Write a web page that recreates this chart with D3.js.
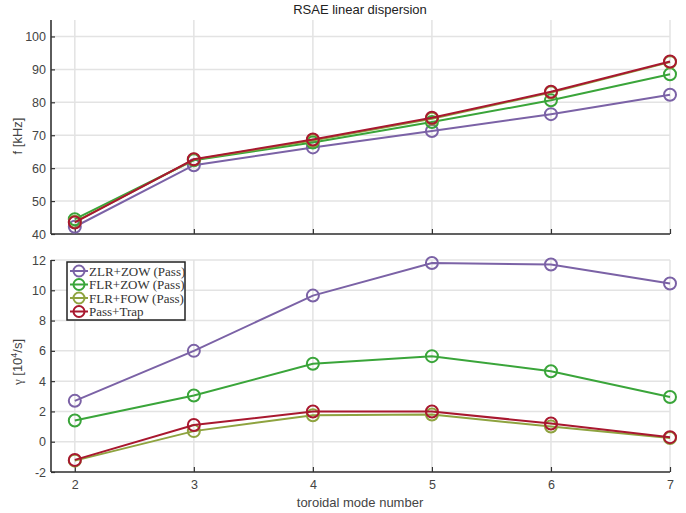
<!DOCTYPE html>
<html>
<head>
<meta charset="utf-8">
<script src="https://cdn.jsdelivr.net/npm/d3@7"></script>
<style>
  body { margin: 0; background: #fff; }
  text { font-family: "Liberation Sans", Arial, sans-serif; }
</style>
</head>
<body>
<script>
const width = 686,
  height = 513;

// toroidal mode numbers
const modes = [2, 3, 4, 5, 6, 7];

// series names and colours
const seriesNames = ["ZLR+ZOW (Pass)", "FLR+ZOW (Pass)", "FLR+FOW (Pass)", "Pass+Trap"];
const seriesColors = ["#7b62a6", "#3aa53a", "#8ea33f", "#a8182f"];

// frequency [kHz]
const freqZLR = [42.2, 60.9, 66.3, 71.3, 76.4, 82.3];
const freqFLR = [44.5, 62.4, 67.8, 74.0, 80.6, 88.5];
const freqFOW = [43.7, 62.6, 68.4, 75.0, 83.0, 92.2];
const freqPT = [43.5, 62.7, 68.7, 75.3, 83.2, 92.4];

// growth rate [10^4/s]
const gamZLR = [2.7, 6.0, 9.65, 11.8, 11.7, 10.45];
const gamFLR = [1.4, 3.05, 5.15, 5.65, 4.65, 2.95];
const gamFOW = [-1.25, 0.7, 1.75, 1.8, 1.0, 0.25];
const gamPT = [-1.2, 1.1, 2.0, 2.0, 1.2, 0.3];

const freqSeries = [freqZLR, freqFLR, freqFOW, freqPT];
const gamSeries = [gamZLR, gamFLR, gamFOW, gamPT];

const fTicks = [40, 50, 60, 70, 80, 90, 100];
const gTicks = [-2, 0, 2, 4, 6, 8, 10, 12];

const left = 51, right = 670;
const axisColor = "#333";
const gridColor = "#e3e3e3";

const svg = d3.select("body").append("svg")
  .attr("width", width)
  .attr("height", height);

const xScale = d3.scaleLinear().domain([1.8, 7]).range([left, right]);

// matlab style: plain hyphen for negatives
const tickFmt = d => String(d);

function panel(top, bottom, domain, ticks, series, showXLabels) {
  const y = d3.scaleLinear().domain(domain).range([bottom, top]);
  const g = svg.append("g");

  // grid
  g.selectAll(".hg").data(ticks).enter().append("line")
    .attr("x1", left).attr("x2", right)
    .attr("y1", d => y(d)).attr("y2", d => y(d))
    .attr("stroke", gridColor).attr("stroke-width", 1.5);
  g.selectAll(".vg").data(modes).enter().append("line")
    .attr("x1", d => xScale(d)).attr("x2", d => xScale(d))
    .attr("y1", top).attr("y2", bottom)
    .attr("stroke", gridColor).attr("stroke-width", 1.5);

  // axes
  const yAxis = d3.axisRight(y).tickValues(ticks).tickSize(4).tickFormat(tickFmt);
  const ya = g.append("g").attr("transform", `translate(${left},0)`).call(yAxis);
  ya.select(".domain").attr("stroke", axisColor).attr("stroke-width", 1.6)
    .attr("d", `M0,${top}V${bottom}`);
  ya.selectAll(".tick line").attr("stroke", axisColor).attr("stroke-width", 1.2);
  ya.selectAll(".tick text").attr("x", -5).attr("text-anchor", "end")
    .attr("fill", "#444").attr("font-size", 12.5);

  const xAxis = d3.axisTop(xScale).tickValues(modes).tickSize(5).tickFormat(tickFmt);
  const xa = g.append("g").attr("transform", `translate(0,${bottom})`).call(xAxis);
  xa.select(".domain").attr("stroke", axisColor).attr("stroke-width", 1.6)
    .attr("d", `M${left},0H${right}`);
  xa.selectAll(".tick line").attr("stroke", axisColor).attr("stroke-width", 1.2);
  xa.selectAll(".tick text").attr("y", 8).attr("dy", "0.71em")
    .attr("fill", "#444").attr("font-size", 12.5)
    .style("display", showXLabels ? null : "none");

  // lines and markers, red series drawn last
  const line = d3.line().x((d, i) => xScale(modes[i])).y(d => y(d));
  series.forEach((s, k) => {
    g.append("path").datum(s)
      .attr("d", line)
      .attr("fill", "none")
      .attr("stroke", seriesColors[k])
      .attr("stroke-width", 2);
    g.selectAll(null).data(s).enter().append("circle")
      .attr("cx", (d, i) => xScale(modes[i]))
      .attr("cy", d => y(d))
      .attr("r", 6)
      .attr("fill", "none")
      .attr("stroke", seriesColors[k])
      .attr("stroke-width", 2);
  });
  return y;
}

panel(20, 234, [40, 105], fTicks, freqSeries, false);
panel(260, 472, [-2, 12], gTicks, gamSeries, true);

// title and labels
svg.append("text")
  .attr("x", 360).attr("y", 14)
  .attr("text-anchor", "middle")
  .attr("font-size", 13)
  .attr("fill", "#222")
  .text("RSAE linear dispersion");

svg.append("text")
  .attr("transform", "translate(22,136) rotate(-90)")
  .attr("text-anchor", "middle")
  .attr("font-size", 13)
  .attr("fill", "#444")
  .text("f [kHz]");

const gl = svg.append("text")
  .attr("transform", "translate(22,362) rotate(-90)")
  .attr("text-anchor", "middle")
  .attr("font-size", 13)
  .attr("fill", "#444");
gl.append("tspan").attr("font-family", "Liberation Serif, serif").text("\u03b3");
gl.append("tspan").text(" [10");
gl.append("tspan").attr("dy", -5).attr("font-size", 9).text("4");
gl.append("tspan").attr("dy", 5).text("/s]");

svg.append("text")
  .attr("x", 360).attr("y", 507)
  .attr("text-anchor", "middle")
  .attr("font-size", 13)
  .attr("fill", "#444")
  .text("toroidal mode number");

// legend
const legend = svg.append("g").attr("transform", "translate(67,262)");
legend.append("rect")
  .attr("width", 118).attr("height", 58)
  .attr("fill", "#fff")
  .attr("stroke", "#222").attr("stroke-width", 1.5);

const items = legend.selectAll(".item").data(seriesNames).enter().append("g")
  .attr("transform", (d, i) => `translate(0,${9 + i * 13.5})`);
items.append("line")
  .attr("x1", 3).attr("x2", 21)
  .attr("stroke", (d, i) => seriesColors[i]).attr("stroke-width", 2);
items.append("circle")
  .attr("cx", 12).attr("r", 5.5)
  .attr("fill", "none")
  .attr("stroke", (d, i) => seriesColors[i]).attr("stroke-width", 2);
items.append("text")
  .attr("x", 22).attr("dy", "0.35em")
  .attr("font-size", 13)
  .attr("fill", "#333")
  .style("font-family", "'Liberation Serif', 'DejaVu Serif', serif")
  .text(d => d);
</script>
</body>
</html>
